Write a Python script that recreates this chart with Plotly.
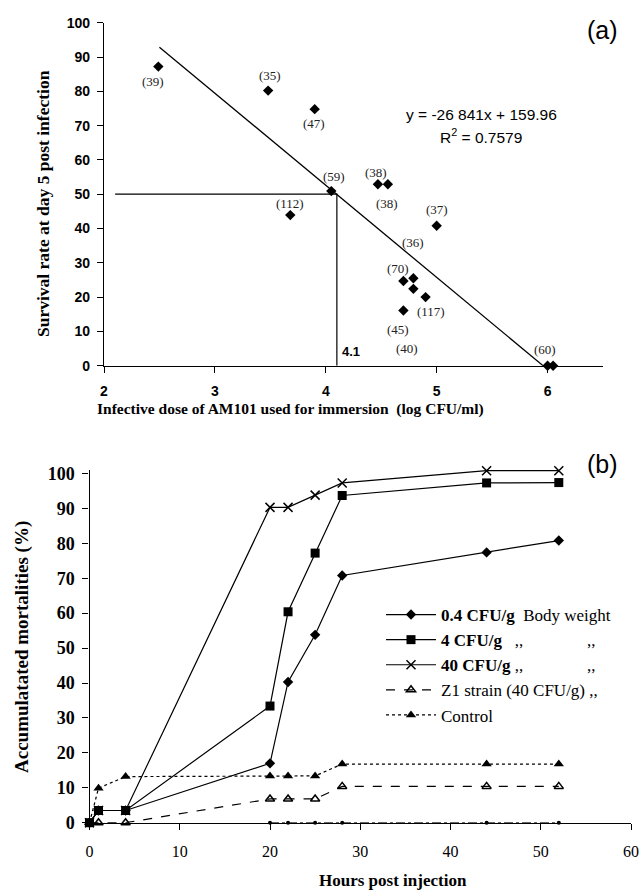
import plotly.graph_objects as go

# ---------------- Panel (a) data ----------------
dose_log = [2.49, 3.48, 3.90, 3.68, 4.05, 4.47, 4.56, 5.00, 4.70, 4.79, 4.79, 4.90, 4.70, 6.00, 6.05]
survival = [87.2, 80.2, 74.8, 43.9, 50.9, 52.9, 52.9, 40.8, 24.7, 25.5, 22.4, 20.0, 16.1, 0.0, 0.0]
n_labels = ["(39)", "(35)", "(47)", "(112)", "(59)", "(38)", "(38)", "(37)", "(36)",
            "(70)", "(117)", "(45)", "(40)", "(60)"]
n_label_x = [2.445, 3.50, 3.89, 3.68, 4.07, 4.455, 4.55, 5.00, 4.79, 4.65, 4.95, 4.65, 4.73, 5.98]
n_label_y = [82.8, 84.5, 70.5, 47.3, 55.1, 56.3, 47.3, 45.4, 36.0, 28.2, 15.7, 10.7, 5.1, 4.6]
slope = -26.841
intercept = 159.96
fit_x_start = 2.5
ld50_dose = 4.1
ld50_surv = 50
ref_line_x_start = 2.1
x_ticks_a = [2, 3, 4, 5, 6]
y_ticks = [0, 10, 20, 30, 40, 50, 60, 70, 80, 90, 100]

# ---------------- Panel (b) data ----------------
hours = [0, 1, 4, 20, 22, 25, 28, 44, 52]
mort_04 = [0, 3.5, 3.5, 17.0, 40.3, 53.8, 70.8, 77.4, 80.8]
mort_4 = [0, 3.5, 3.5, 33.4, 60.4, 77.2, 93.7, 97.3, 97.4]
mort_40 = [0, 3.5, 3.5, 90.3, 90.3, 93.8, 97.3, 100.8, 100.8]
mort_z1 = [0, 0, 0, 6.8, 6.8, 6.8, 10.4, 10.4, 10.4]
mort_ctrl = [0, 9.9, 13.2, 13.4, 13.4, 13.4, 16.8, 16.8, 16.8]
zero_hours = [20, 22, 25, 28, 44, 52]
zero_vals = [0, 0, 0, 0, 0, 0]
NB = "\u00a0"
legend_names = [
    "<b>0.4 CFU/g</b>" + NB * 2 + "Body weight",
    "<b>4 CFU/g</b>" + NB * 3 + ",," + NB * 15 + ",,",
    "<b>40 CFU/g</b> ,," + NB * 15 + ",,",
    "Z1 strain (40 CFU/g) ,,",
    "Control",
]
x_ticks_b = [0, 10, 20, 30, 40, 50, 60]

W, H = 642, 892
SERIF = "Liberation Serif, Times New Roman, serif"
SANS = "Liberation Sans, Arial, sans-serif"

fig = go.Figure()

# ---- panel (a) traces ----
fit_x_end = -intercept / slope
fig.add_trace(go.Scatter(x=[fit_x_start, fit_x_end],
                         y=[slope * fit_x_start + intercept, 0],
                         mode="lines", line=dict(color="black", width=1.3),
                         xaxis="x", yaxis="y", showlegend=False))
fig.add_trace(go.Scatter(x=[ref_line_x_start, ld50_dose, ld50_dose],
                         y=[ld50_surv, ld50_surv, 0],
                         mode="lines", line=dict(color="black", width=1.2),
                         xaxis="x", yaxis="y", showlegend=False))
fig.add_trace(go.Scatter(x=dose_log, y=survival, mode="markers",
                         marker=dict(symbol="diamond", size=8, color="black"),
                         cliponaxis=False, xaxis="x", yaxis="y", showlegend=False))

# ---- panel (b) traces ----
fig.add_trace(go.Scatter(x=zero_hours, y=zero_vals, mode="lines+markers",
                         line=dict(color="black", width=1, dash="dashdot"),
                         marker=dict(symbol="circle", size=4, color="black"),
                         cliponaxis=False, xaxis="x2", yaxis="y2", showlegend=False))
fig.add_trace(go.Scatter(x=hours, y=mort_04, name=legend_names[0], mode="lines+markers",
                         line=dict(color="black", width=1.2),
                         marker=dict(symbol="diamond", size=8, color="black"),
                         cliponaxis=False, xaxis="x2", yaxis="y2"))
fig.add_trace(go.Scatter(x=hours, y=mort_4, name=legend_names[1], mode="lines+markers",
                         line=dict(color="black", width=1.2),
                         marker=dict(symbol="square", size=9, color="black"),
                         cliponaxis=False, xaxis="x2", yaxis="y2"))
fig.add_trace(go.Scatter(x=hours, y=mort_40, name=legend_names[2], mode="lines+markers",
                         line=dict(color="black", width=1.2),
                         marker=dict(symbol="x-thin", size=9, color="black",
                                     line=dict(color="black", width=1.5)),
                         cliponaxis=False, xaxis="x2", yaxis="y2"))
fig.add_trace(go.Scatter(x=hours, y=mort_z1, name=legend_names[3], mode="lines+markers",
                         line=dict(color="black", width=1.2, dash="dash"),
                         marker=dict(symbol="triangle-up-open", size=8, color="black",
                                     line=dict(width=1.5)),
                         cliponaxis=False, xaxis="x2", yaxis="y2"))
fig.add_trace(go.Scatter(x=hours, y=mort_ctrl, name=legend_names[4], mode="lines+markers",
                         line=dict(color="black", width=1.2, dash="dot"),
                         marker=dict(symbol="triangle-up", size=9, color="black"),
                         cliponaxis=False, xaxis="x2", yaxis="y2"))

axis_common = dict(showline=True, linecolor="black", linewidth=1.2, ticks="outside",
                   ticklen=6, tickcolor="black", tickwidth=1.2, showgrid=False,
                   zeroline=False, mirror=False, automargin=False)

fig.update_layout(
    width=W, height=H, margin=dict(l=0, r=0, t=0, b=0, pad=0, autoexpand=False),
    paper_bgcolor="white", plot_bgcolor="white",
    xaxis=dict(domain=[104 / W, 603 / W], range=[2, 6.5], tickvals=x_ticks_a,
               tickfont=dict(family=SANS, size=14, color="black", weight="bold"),
               ticklabelstandoff=6, anchor="y", **axis_common),
    yaxis=dict(domain=[1 - 365.7 / H, 1 - 22.7 / H], range=[0, 100], tickvals=y_ticks,
               tickfont=dict(family=SANS, size=14, color="black", weight="bold"),
               ticklabelstandoff=4, anchor="x", **axis_common),
    xaxis2=dict(domain=[89.5 / W, 631 / W], range=[0, 60], tickvals=x_ticks_b,
                tickfont=dict(family=SERIF, size=16, color="black"),
                ticklabelstandoff=8, anchor="y2", **axis_common),
    yaxis2=dict(domain=[1 - 822.7 / H, 1 - 470.0 / H], range=[0, 101], tickvals=y_ticks,
                tickfont=dict(family=SERIF, size=18, color="black", weight="bold"),
                ticklabelstandoff=4, anchor="x2", **axis_common),
    legend=dict(x=381 / W, y=1 - 597 / H, xanchor="left", yanchor="top",
                bgcolor="rgba(0,0,0,0)", itemwidth=50, tracegroupgap=0,
                font=dict(family=SERIF, size=17, color="black")),
    showlegend=True,
)

annotations = []
for t, lx, ly in zip(n_labels, n_label_x, n_label_y):
    annotations.append(dict(x=lx, y=ly, xref="x", yref="y", text=t, showarrow=False,
                            xanchor="center", yanchor="middle",
                            font=dict(family=SERIF, size=13, color="#222")))


def paper_text(px, py, text, font, angle=0):
    return dict(x=px / W, y=1 - py / H, xref="paper", yref="paper", text=text,
                showarrow=False, xanchor="center", yanchor="middle",
                textangle=angle, font=font)


annotations += [
    dict(x=4.23, y=4.1, xref="x", yref="y", text="<b>4.1</b>", showarrow=False,
         xanchor="center", yanchor="middle",
         font=dict(family=SANS, size=13, color="black")),
    paper_text(481, 114, "y = -26 841x + 159.96", dict(family=SANS, size=15.5, color="black")),
    paper_text(481, 136, "R<sup>2</sup> = 0.7579", dict(family=SANS, size=15.5, color="black")),
    paper_text(602, 30, "(a)", dict(family=SANS, size=25, color="black")),
    paper_text(602, 464, "(b)", dict(family=SANS, size=25, color="black")),
    paper_text(43, 204, "<b>Survival rate at day 5 post infection</b>",
               dict(family=SERIF, size=17.5, color="black"), angle=-90),
    paper_text(290, 409, "<b>Infective dose of AM101 used for immersion" + NB * 2 + "(log CFU/ml)</b>",
               dict(family=SERIF, size=15.5, color="black")),
    paper_text(22, 647, "<b>Accumulatated mortalities (%)</b>",
               dict(family=SERIF, size=19, color="black"), angle=-90),
    paper_text(393, 880, "<b>Hours post injection</b>", dict(family=SERIF, size=17, color="black")),
]
fig.update_layout(annotations=annotations)

fig.write_html("out.html", config={"displayModeBar": False},
               post_script="document.body.style.margin='0';")
